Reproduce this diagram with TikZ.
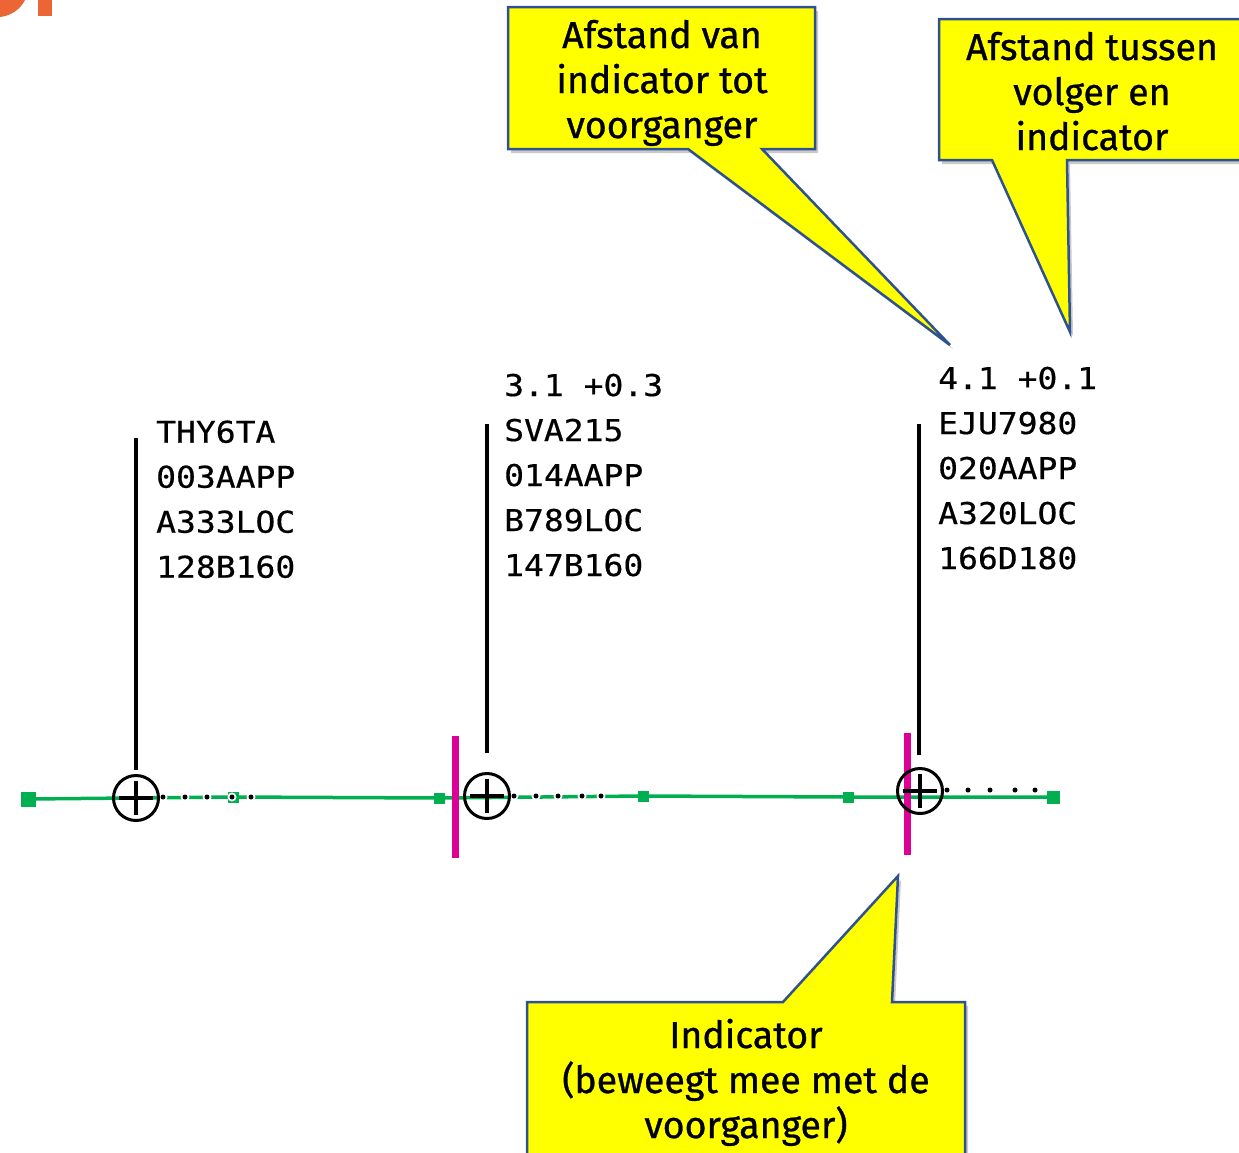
\documentclass[tikz,border=0pt]{standalone}
\usepackage{fontspec}
\setmainfont[FakeBold=0.8]{Fira Sans}
\newfontfamily\monof[FakeStretch=1.1,FakeBold=0.5]{DejaVu Sans Mono}
\usetikzlibrary{shadows,backgrounds}
\definecolor{trackgreen}{HTML}{00B050}
\definecolor{indmag}{HTML}{DC0096}
\definecolor{callfill}{HTML}{FFFF00}
\definecolor{callbord}{HTML}{2F528F}
\definecolor{titleor}{HTML}{EC6535}
\begin{document}
\begin{tikzpicture}[x=1pt,y=-1pt,
  gsq/.style={rectangle,fill=trackgreen,inner sep=0pt,minimum size=11pt},
  track/.style={draw=trackgreen,line width=3.5pt},
  plane/.style={circle,draw=black,fill=none,line width=3pt,inner sep=0pt,minimum size=45pt,
    path picture={\draw[line width=3.5pt]
      ([xshift=-17pt]path picture bounding box.center) -- ([xshift=17pt]path picture bounding box.center)
      ([yshift=-17pt]path picture bounding box.center) -- ([yshift=17pt]path picture bounding box.center);}},
  trail/.style={circle,fill=white,inner sep=0pt,minimum size=9pt,
    path picture={\fill[black] (path picture bounding box.center) circle (2.5pt);}},
  leader/.style={draw=black,line width=3.5pt},
  indic/.style={draw=indmag,line width=7pt},
  lbl/.style={anchor=base west,inner sep=0pt,align=left,font=\monof\fontsize{30}{45}\selectfont},
  callout/.style={fill=callfill,draw=callbord,line width=2.5pt,line join=miter,
    drop shadow={shadow xshift=3pt,shadow yshift=-4pt,opacity=0.35,fill=black!60}},
  calltext/.style={anchor=base,inner sep=0pt,align=center,font=\fontsize{37.5}{45}\selectfont}
]
\useasboundingbox (0,0) rectangle (1239,1152);
\clip (0,0) rectangle (1239,1152);

% orange title fragments
\fill[titleor] (0,0) -- (25,0) .. controls (20,10) and (10,16) .. (0,17) -- cycle;
\fill[titleor] (38,0) rectangle (52,16);

% track squares
\node[gsq,minimum size=15pt] (s1) at (28,799) {};
\node[gsq] (s2) at (233,797) {};
\node[gsq] (s3) at (439,798) {};
\node[gsq] (s4) at (643,796) {};
\node[gsq] (s5) at (848,797) {};
\node[gsq,minimum size=13pt] (s6) at (1053,797) {};
\begin{scope}[on background layer]
  \draw[track] (s1.center) -- (s2.center) -- (s3.center) -- (s4.center) -- (s5.center) -- (s6.center);
\end{scope}

% indicators
\coordinate (m1a) at (455,736); \coordinate (m1b) at (455,858);
\coordinate (m2a) at (907,733); \coordinate (m2b) at (907,855);
\draw[indic] (m1a) -- (m1b);
\draw[indic] (m2a) -- (m2b);

% trails
\foreach \x [count=\i] in {163,185,207,232,251} \node[trail] (ta\i) at (\x,797) {};
\foreach \x [count=\i] in {514,536,558,582,601} \node[trail] (tb\i) at (\x,796) {};
\foreach \x [count=\i] in {947,968,990,1015,1035} \node[trail] (tc\i) at (\x,790) {};

% aircraft
\node[plane] (a1) at (136,798) {};
\node[plane] (a2) at (487,796) {};
\node[plane] (a3) at (920,791) {};

% leaders
\coordinate (l1) at (136,438); \coordinate (l1b) at (136,770);
\coordinate (l2) at (487,424); \coordinate (l2b) at (487,753);
\coordinate (l3) at (919,424); \coordinate (l3b) at (919,755);
\draw[leader] (l1) -- (l1b);
\draw[leader] (l2) -- (l2b);
\draw[leader] (l3) -- (l3b);

% labels (base anchor = last line)
\node[lbl] (lab1) at (156,577.7) {THY6TA\\003AAPP\\A333LOC\\128B160};
\node[lbl] (lab2) at (504,576) {3.1 +0.3\\SVA215\\014AAPP\\B789LOC\\147B160};
\node[lbl] (lab3) at (938,569) {4.1 +0.1\\EJU7980\\020AAPP\\A320LOC\\166D180};

% callouts
\draw[callout] (508,7) -- (815,7) -- (815,149) -- (762,149) -- (950,345) -- (688,149) -- (508,149) -- cycle;
\node[calltext] (c1) at (662,138) {Afstand van\\indicator tot\\voorganger};

\draw[callout] (939,19) -- (1260,19) -- (1260,160) -- (1067,160) -- (1070,332) -- (992,160) -- (939,160) -- cycle;
\node[calltext] (c2) at (1092,150) {Afstand tussen\\volger en\\indicator};

\draw[callout] (527,1002) -- (783,1002) -- (898,876) -- (892,1002) -- (965,1002) -- (965,1170) -- (527,1170) -- cycle;
\node[calltext] (c3) at (746,1138) {Indicator\\(beweegt mee met de\\voorganger)};
\end{tikzpicture}
\end{document}
